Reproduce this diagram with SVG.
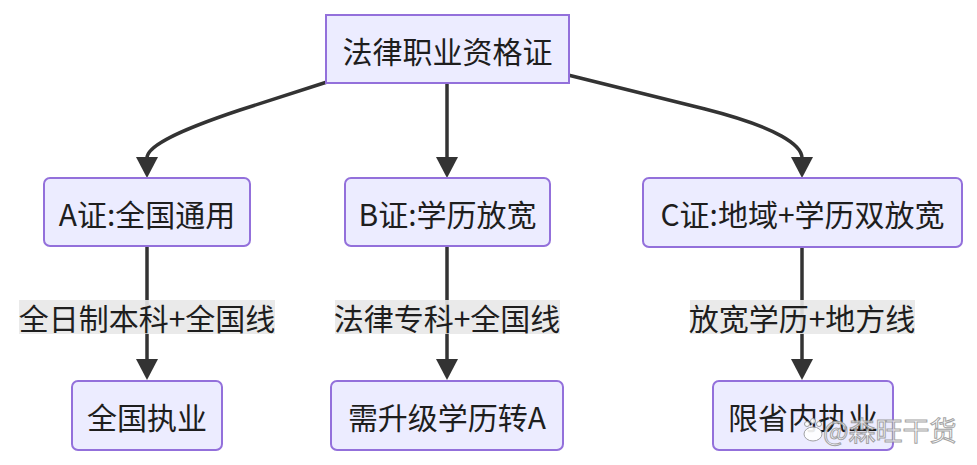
<svg xmlns="http://www.w3.org/2000/svg" width="977" height="465" viewBox="0 0 977 465">
<defs>
<style>
.node rect{fill:#ECECFF;stroke:#9370DB;stroke-width:2}
.t{font-family:"Noto Sans CJK SC","Noto Sans",sans-serif;font-size:30px;fill:#1e1e1e;text-anchor:middle;dominant-baseline:central}
.edge{fill:none;stroke:#333;stroke-width:3.5}
.lbg{fill:#e8e8e8;opacity:0.9}
.wm{font-family:"Noto Sans CJK SC",sans-serif;font-size:27px;fill:#fff;stroke:#9a9a9a;stroke-width:1;fill-opacity:0.85}
</style>
</defs>
<rect width="977" height="465" fill="#fff"/>
<g id="connectors">
<path class="edge" d="M327,82 L240,110 C168,134 147,148 147,158"/>
<path d="M136,157 L158,157 L147,178 Z" fill="#333"/>
<path class="edge" d="M447,83 L447,158"/>
<path d="M436,157 L458,157 L447,178 Z" fill="#333"/>
<path class="edge" d="M568,75 L705,109 C780,128 802,146 802,158"/>
<path d="M791,157 L813,157 L802,178 Z" fill="#333"/>
<path class="edge" d="M147,246 L147,360"/>
<path d="M136,359 L158,359 L147,380 Z" fill="#333"/>
<path class="edge" d="M447,246 L447,360"/>
<path d="M436,359 L458,359 L447,380 Z" fill="#333"/>
<path class="edge" d="M802,247 L802,360"/>
<path d="M791,359 L813,359 L802,380 Z" fill="#333"/>
<g id="edge-labels">
<rect class="lbg" x="19" y="300" width="256" height="34"/>
<text class="t" x="147" y="317">全日制本科+全国线</text>
<rect class="lbg" x="335" y="300" width="225" height="34"/>
<text class="t" x="447" y="317">法律专科+全国线</text>
<rect class="lbg" x="690" y="300" width="225" height="34"/>
<text class="t" x="802" y="317">放宽学历+地方线</text>
</g>
</g>
<g id="root" class="node">
<rect x="326" y="15" width="243" height="68"/>
<text class="t" x="447.5" y="50">法律职业资格证</text>
</g>
<g id="A" class="node">
<rect x="44" y="178" width="206" height="68" rx="6"/>
<text class="t" x="147" y="213">A证:全国通用</text>
</g>
<g id="B" class="node">
<rect x="345" y="178" width="205" height="68" rx="6"/>
<text class="t" x="447.5" y="213">B证:学历放宽</text>
</g>
<g id="C" class="node">
<rect x="643" y="178" width="319" height="69" rx="6"/>
<text class="t" x="802.5" y="213">C证:地域+学历双放宽</text>
</g>
<g id="A1" class="node">
<rect x="72" y="381" width="150" height="69" rx="6"/>
<text class="t" x="147" y="416">全国执业</text>
</g>
<g id="B1" class="node">
<rect x="331" y="381" width="232" height="69" rx="6"/>
<text class="t" x="447" y="416">需升级学历转A</text>
</g>
<g id="C1" class="node">
<rect x="713" y="381" width="180" height="69" rx="6"/>
<text class="t" x="803" y="416">限省内执业</text>
</g>
<g id="watermark" opacity="0.9">
<circle cx="807" cy="424" r="2.5" fill="#fff" stroke="#9a9a9a"/>
<circle cx="813" cy="421" r="2.5" fill="#fff" stroke="#9a9a9a"/>
<circle cx="819" cy="424" r="2.5" fill="#fff" stroke="#9a9a9a"/>
<ellipse cx="813" cy="434" rx="9" ry="7" fill="#fff" stroke="#9a9a9a"/>
<text x="823" y="441" class="wm">@森旺干货</text>
</g>
</svg>
